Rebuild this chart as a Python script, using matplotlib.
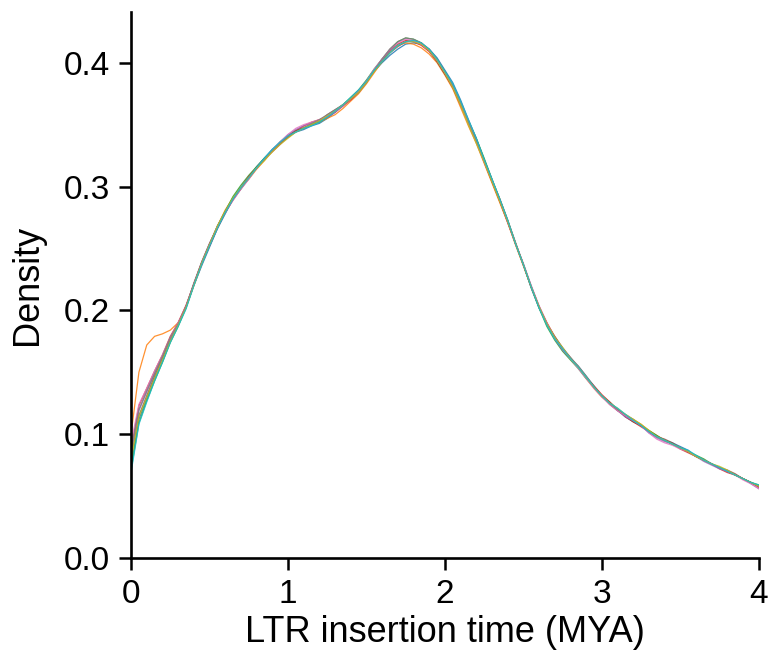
import matplotlib
matplotlib.use("Agg")
import matplotlib.pyplot as plt
import numpy as np

plt.rcParams['font.family'] = ['Liberation Sans', 'DejaVu Sans']

# insertion time grid (MYA), step 0.05
time_mya = [i * 0.05 for i in range(81)]

# central density curve, thousandths
base_density = [
    85, 118, 133, 148, 162, 177, 189, 203, 221, 238,
    253, 267, 279, 290, 299, 307, 315, 322, 329, 335,
    340, 344, 347, 350, 353, 357, 361, 366, 371, 377,
    385, 394, 402, 409, 414, 417, 417, 415, 410, 402,
    392, 381, 367, 352, 337, 321, 305, 289, 272, 254,
    237, 219, 203, 189, 178, 169, 161, 154, 146, 138,
    131, 125, 120, 115, 111, 107, 102, 98, 95, 92,
    89, 86, 82, 79, 76, 73, 70, 67, 64, 61,
    58,
]

# per-replicate deviations from the central curve, thousandths
rep0 = [
    -10, -6, -4, -3, -3, -2, -1, -1, -1, -2,
    -2, -1, -1, 0, 0, 0, 1, 1, 1, 0,
    0, 0, -1, -1, -2, -2, -1, 0, 0, 0,
    0, -1, -2, -3, -3, -2, -1, 0, 1, 2,
    2, 3, 3, 2, 2, 1, 1, 0, 0, 0,
    0, -1, -1, 0, 0, 0, 0, 1, 1, 1,
    0, 0, 0, -1, -1, 0, 0, 0, 0, 1,
    1, 1, 0, 0, 0, 0, 0, 0, 0, 0,
    0,
]
rep1 = [
    15, 32, 39, 31, 19, 7, 1, 0, -1, -1,
    0, 1, 2, 1, 0, -1, -1, -1, 0, 0,
    0, 1, 1, 0, -1, -2, -3, -3, -2, -2,
    -2, -2, -1, 0, 0, -1, -2, -3, -3, -2,
    -2, -2, -3, -3, -2, -2, -2, -2, -1, -1,
    -1, 0, 0, 1, 1, 0, 0, 0, -1, -1,
    -1, 0, 0, 0, 1, 1, 1, 1, 0, 0,
    0, 0, 0, 0, 0, 0, 0, 0, 0, 0,
    0,
]
rep2 = [
    -14, -9, -6, -5, -4, -3, -2, -1, 0, 0,
    0, 1, 1, 2, 2, 2, 1, 1, 0, 0,
    1, 1, 0, 0, -1, -1, 0, 0, 1, 1,
    1, 1, 1, 2, 3, 3, 2, 1, 0, -1,
    -1, 0, 0, 1, 2, 2, 1, 1, 1, 0,
    0, 0, -1, -2, -2, -2, -1, -1, -1, 0,
    0, 1, 0, 0, -1, 0, 1, 1, 0, 0,
    0, 0, 1, 1, 0, 0, 0, 0, 0, 0,
    1,
]
rep3 = [
    3, 5, 4, 3, 2, 2, 1, 1, 0, 0,
    -1, -1, 0, 0, 0, 1, 0, 0, -1, -1,
    0, 1, 2, 2, 1, 0, -1, -1, -1, -1,
    -1, 0, 0, 1, 1, 1, 0, -1, -1, -1,
    -1, -1, -1, 0, 0, -1, -1, -1, -1, 0,
    0, 0, 0, 1, 0, 0, 0, 0, 0, 1,
    1, 1, 0, -1, -1, -1, 0, 0, 0, 0,
    -1, -1, 0, 0, 0, -1, -1, 0, 0, 0,
    -1,
]
rep4 = [
    0, 1, 1, 1, 0, 0, 0, 0, 0, 1,
    1, 1, 0, 0, -1, -1, 0, 0, 1, 1,
    2, 2, 2, 1, 0, -1, -1, -1, 0, 0,
    0, 0, 1, 1, 0, 0, 0, 0, 0, 0,
    0, 0, 1, 1, 1, 0, 0, 0, 0, 0,
    1, 1, 0, 0, -1, -1, 0, 0, 0, 0,
    0, 0, -1, -1, 0, 0, -1, -1, -1, 0,
    0, 0, 0, -1, -1, -1, 0, 0, 0, -1,
    -2,
]
rep5 = [
    -4, -3, -2, -1, -1, 0, 0, 0, 1, 1,
    1, 0, 0, -1, -1, 0, 0, 0, 0, 1,
    1, 1, 0, 0, 0, 1, 1, 0, 0, 0,
    0, 0, -1, -1, -1, 0, 1, 1, 1, 1,
    1, 1, 1, 0, 0, 0, 0, 1, 1, 1,
    0, 0, 0, 0, 1, 1, 1, 0, 0, 0,
    0, -1, -1, 0, 0, 0, 0, 0, 1, 1,
    0, 0, 0, 0, 0, 0, 1, 1, 0, 0,
    0,
]
rep6 = [
    8, 6, 4, 3, 2, 1, 1, 0, 0, 0,
    0, 0, 0, -1, -1, -1, 0, 0, 0, 1,
    2, 3, 3, 2, 1, 0, 0, 0, 0, 0,
    0, 1, 1, 2, 2, 2, 1, 0, 0, 0,
    0, 0, 0, 0, -1, -1, 0, 0, 0, 0,
    0, 1, 1, 1, 0, 0, 0, -1, -1, -1,
    -1, -1, -1, 0, 0, 0, -1, -2, -2, -1,
    -1, 0, 0, 0, 0, 0, 0, 0, -1, -1,
    -2,
]
rep7 = [
    2, 2, 2, 1, 1, 1, 0, 0, 0, 0,
    0, 0, 0, 0, 0, 0, 0, 0, 0, 0,
    0, 0, 0, 1, 1, 1, 1, 0, 0, -1,
    -1, 0, 1, 2, 3, 3, 2, 1, 0, 0,
    0, 0, 0, 0, 0, 0, 0, 0, 0, 0,
    0, 0, 0, 0, 0, 0, 1, 1, 1, 0,
    0, 0, 0, 1, 1, 0, 0, 0, 0, 0,
    0, 0, 0, 0, 0, 0, 0, 0, 0, 0,
    0,
]
rep8 = [
    -6, -4, -3, -3, -2, -2, -1, -1, -1, 0,
    0, 1, 1, 1, 0, 0, 0, -1, -1, -1,
    -1, 0, 0, 0, 0, 0, 0, 0, 0, -1,
    -1, -1, -1, -1, 0, 0, 0, 0, 0, 0,
    0, -1, -1, -2, -2, -1, -1, -1, 0, 0,
    0, 0, 0, 0, 0, 1, 0, 0, 0, 0,
    0, 0, 1, 1, 1, 1, 1, 0, 0, 0,
    0, 0, 0, 0, 0, 1, 1, 0, 0, 0,
    0,
]
rep9 = [
    -16, -10, -7, -5, -4, -3, -2, -2, -1, -1,
    -1, -1, 0, 0, 0, 0, 0, 1, 1, 1,
    1, 0, 0, -1, -1, -1, 0, 0, 1, 1,
    0, 0, -1, -1, 0, 0, 1, 1, 1, 1,
    1, 2, 2, 2, 2, 1, 1, 1, 1, 0,
    0, 0, -1, -1, -1, 0, 0, 0, 0, 0,
    0, 0, 1, 1, 0, 0, 0, 0, 0, 0,
    0, 1, 1, 0, 0, 0, 0, 0, 0, 0,
    1,
]
replicates = [rep0, rep1, rep2, rep3, rep4, rep5, rep6, rep7, rep8, rep9]

fig, ax = plt.subplots(figsize=(7.71, 6.65), dpi=100)
fig.subplots_adjust(left=0.170, right=0.984, bottom=0.161, top=0.982)

base = np.array(base_density)
for i, dev in enumerate(replicates):
    ax.plot(time_mya, (base + np.array(dev)) / 1000.0, color=f"C{i}", lw=0.9, alpha=0.85)

ax.set_xlim(0, 4)
ax.set_ylim(0, 0.441)
ax.set_xticks([0, 1, 2, 3, 4])
ax.set_yticks([0.0, 0.1, 0.2, 0.3, 0.4])
ax.set_yticklabels(["0.0", "0.1", "0.2", "0.3", "0.4"])
ax.set_xlabel("LTR insertion time (MYA)", fontsize=26, labelpad=4)
ax.set_ylabel("Density", fontsize=26, labelpad=14)
ax.tick_params(labelsize=24, width=1.8, length=8.5, pad=6.5)
for side in ["top", "right"]:
    ax.spines[side].set_visible(False)
for side in ["left", "bottom"]:
    ax.spines[side].set_linewidth(1.9)

fig.savefig("out.png", dpi=100)
